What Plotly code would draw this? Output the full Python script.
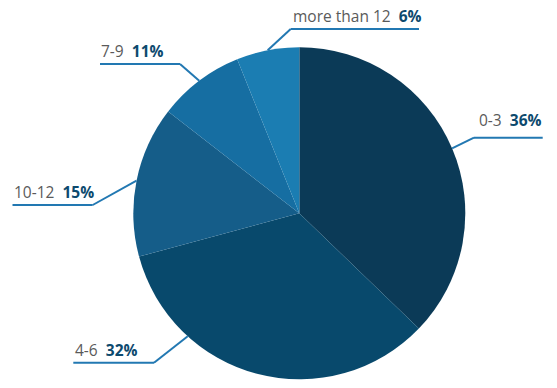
import math
import plotly.graph_objects as go

# ---- data ----
categories = ["0-3", "4-6", "10-12", "7-9", "more than 12"]
slice_values = [37.2, 33.6, 14.7, 8.4, 6.1]          # slice sizes as drawn
pct_labels = ["36%", "32%", "15%", "11%", "6%"]       # percentages as printed
colors = ["#0b3a57", "#08496c", "#155d89", "#166ea2", "#1b7db2"]

# ---- layout constants (pixels) ----
W, H = 557, 388
CX, CY, R = 299.3, 213.3, 166
LINE_COLOR = "#2278b2"

# label placement per category: elbow of leader, end of horizontal line,
# left edge / vertical centre of the text, and where on the slice the leader touches
label_layout = {
    "0-3":          dict(elbow=(474, 137.7), end=(542.7, 137.7), text=(476.5, 119.5), frac=0.5),
    "4-6":          dict(elbow=(154, 362.7), end=(73.3, 362.7),  text=(72.5, 349.5),  frac=0.73),
    "10-12":        dict(elbow=(92.7, 205),  end=(12.5, 205),    text=(11.5, 191.5),  frac=0.5),
    "7-9":          dict(elbow=(180, 64),    end=(100, 64),      text=(99, 51.5),     frac=0.5),
    "more than 12": dict(elbow=(290.7, 29),  end=(419, 29),      text=(290.5, 16),    frac=0.5),
}


def px(x):
    return x / W


def py(y):
    return 1 - y / H


fig = go.Figure()
fig.add_trace(go.Pie(
    labels=categories,
    values=slice_values,
    sort=False,
    direction="clockwise",
    rotation=0,
    marker=dict(colors=colors, line=dict(width=0)),
    textinfo="none",
    hoverinfo="label+percent",
    showlegend=False,
    domain=dict(x=[px(CX - R), px(CX + R)], y=[py(CY + R), py(CY - R)]),
))

total = sum(slice_values)
cum = 0.0
shapes = []
annotations = []
for cat, val, pct in zip(categories, slice_values, pct_labels):
    lay = label_layout[cat]
    ang = math.radians(360.0 * (cum + lay["frac"] * val) / total)
    cum += val
    ex, ey = CX + R * math.sin(ang), CY - R * math.cos(ang)
    (bx, by), (hx, hy) = lay["elbow"], lay["end"]
    shapes.append(dict(type="line", xref="paper", yref="paper",
                       x0=px(ex), y0=py(ey), x1=px(bx), y1=py(by),
                       line=dict(color=LINE_COLOR, width=2)))
    shapes.append(dict(type="line", xref="paper", yref="paper",
                       x0=px(bx), y0=py(by), x1=px(hx), y1=py(hy),
                       line=dict(color=LINE_COLOR, width=2)))
    tx, ty = lay["text"]
    annotations.append(dict(
        xref="paper", yref="paper", x=px(tx), y=py(ty),
        xanchor="left", yanchor="middle", showarrow=False,
        text=f"{cat}\u00a0\u00a0<b><span style='color:#0d4a6e'>{pct}</span></b>",
        font=dict(family="Open Sans", size=15.5, color="#5a5a5a"),
    ))

fig.update_layout(
    width=W, height=H,
    margin=dict(l=0, r=0, t=0, b=0),
    paper_bgcolor="white", plot_bgcolor="white",
    shapes=shapes, annotations=annotations,
)

fig.write_html("out.html", config={"displayModeBar": False},
               post_script="document.body.style.margin='0';")
